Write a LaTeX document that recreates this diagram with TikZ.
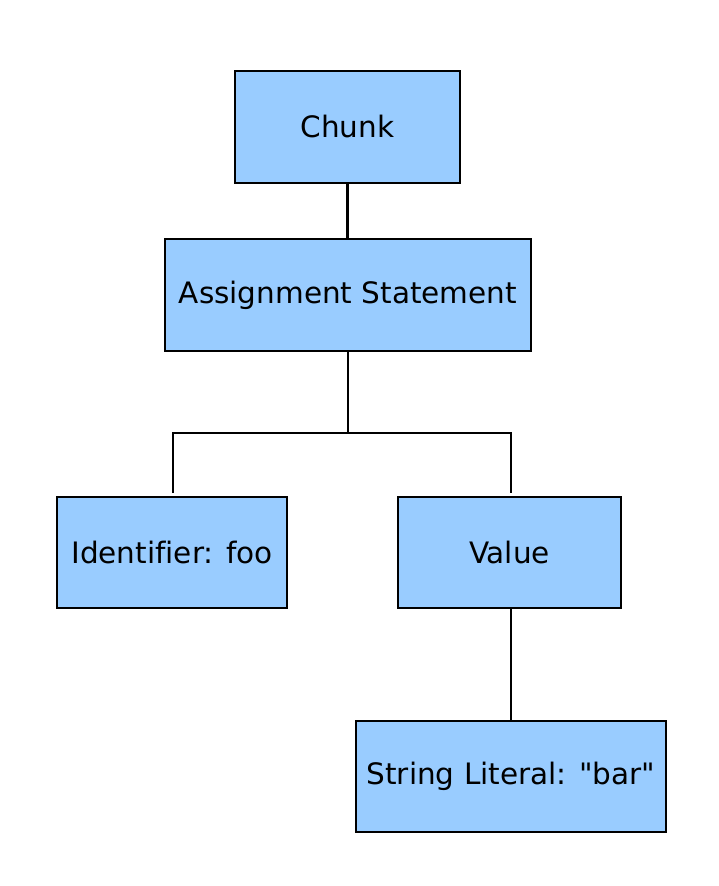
\documentclass[tikz,border=0pt]{standalone}
\usepackage{fontspec}
\setmainfont[Ligatures={NoCommon,TeXOff}]{DejaVu Sans}
\definecolor{boxblue}{RGB}{153,204,255}
\begin{document}
\begin{tikzpicture}[x=1pt,y=-1pt,
  treebox/.style={draw=black,line width=2.6pt,fill=boxblue,rectangle,inner sep=0pt,
    font=\fontsize{29.5}{35}\selectfont},
  link/.style={draw=black,line width=2.6pt}]
\useasboundingbox (0,0) rectangle (718,886);
\node[treebox,minimum width=225pt,minimum height=112pt] (chunk) at (347.5,127) {Chunk};
\node[treebox,minimum width=366pt,minimum height=112pt] (assign) at (348,295) {Assignment Statement};
\node[treebox,minimum width=230pt,minimum height=111pt] (ident) at (172,552.5) {Identifier: foo};
\node[treebox,minimum width=223pt,minimum height=111pt] (value) at (509.5,552.5) {Value};
\node[treebox,minimum width=310pt,minimum height=111pt] (string) at (511,776.5) {String Literal: "bar"};
\coordinate (bus) at (348,433);
\coordinate (jl) at (173,493);
\coordinate (jr) at (511,493);
\draw[link] (chunk.south) -- (chunk.south |- assign.north);
\draw[link] (assign.south) -- (bus);
\draw[link] (jl) |- (bus) -| (jr);
\draw[link] (string.north |- value.south) -- (string.north);
\end{tikzpicture}
\end{document}
